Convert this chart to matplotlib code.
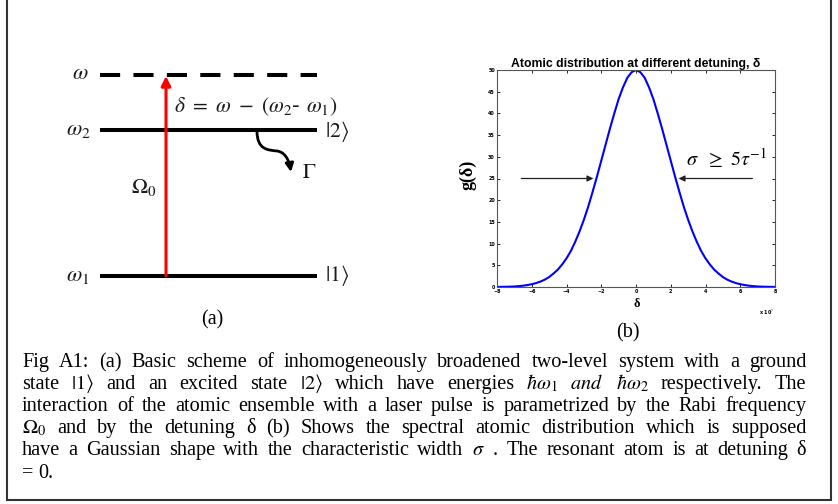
import numpy as np
import matplotlib
matplotlib.use("Agg")
import matplotlib.pyplot as plt
from matplotlib.patches import FancyArrowPatch, Rectangle
from matplotlib.path import Path

plt.rcParams['mathtext.fontset'] = 'stix'

# g(delta), one value every 0.25 from -8 to 8
g_vals = [0.02, 0.03, 0.05, 0.08, 0.12, 0.2, 0.3, 0.45, 0.65, 0.9, 1.25,
          1.7, 2.3, 3.1, 4.0, 5.2, 6.6, 8.3, 10.4, 12.8, 15.5, 18.5, 21.9,
          25.4, 29.1, 32.8, 36.5, 40.0, 43.3, 46.0, 48.2, 49.5, 50.0,
          49.5, 48.2, 46.0, 43.3, 40.0, 36.5, 32.8, 29.1, 25.4, 21.9, 18.5,
          15.5, 12.8, 10.4, 8.3, 6.6, 5.2, 4.0, 3.1, 2.3, 1.7, 1.25, 0.9,
          0.65, 0.45, 0.3, 0.2, 0.12, 0.08, 0.05, 0.03, 0.02]
delta = np.linspace(-8, 8, len(g_vals))

x_ticks = [-8, -6, -4, -2, 0, 2, 4, 6, 8]
y_ticks = [0, 5, 10, 15, 20, 25, 30, 35, 40, 45, 50]

# width arrows (tail, tip) at half maximum
half_max = 25
arrow_tails = [-6.6, 6.7]
arrow_tips = [-2.45, 2.45]

caption_lines = [
    "Fig A1: (a) Basic scheme of inhomogeneously broadened two-level system with a ground",
    "state $|1\\rangle$ and an excited state $|2\\rangle$ which have energies "
    "$\\hbar\\omega_1$ $\\mathit{and}$ $\\hbar\\omega_2$ respectively. The",
    "interaction of the atomic ensemble with a laser pulse is parametrized by the Rabi frequency",
    "$\\Omega_0$ and by the detuning \u03b4 (b) Shows the spectral atomic distribution which is supposed",
    "have a Gaussian shape with the characteristic width $\\sigma$ . The resonant atom is at detuning \u03b4",
    "= 0.",
]

W, H = 838, 504
fig = plt.figure(figsize=(W / 100, H / 100), dpi=100)

# ---- panel (b): gaussian
ax = fig.add_axes([497 / W, 1 - 287 / H, 278 / W, 217 / H])
ax.plot(delta, g_vals, color='#0000ff', lw=1.5)
ax.set_xlim(-8, 8)
ax.set_ylim(0, 50)
ax.set_xticks(x_ticks)
ax.set_yticks(y_ticks)
ax.tick_params(direction='in', length=2.5, width=0.6, labelsize=3.5,
               top=True, right=True, pad=1.5)
for lbl in ax.get_xticklabels() + ax.get_yticklabels():
    lbl.set_fontweight('bold')
for sp in ax.spines.values():
    sp.set_color('#555555')
    sp.set_linewidth(0.8)
ax.set_title("Atomic distribution at different detuning, \u03b4", fontsize=8.8,
             fontweight='bold', family='Liberation Sans', pad=2.5)
for tail, tip in zip(arrow_tails, arrow_tips):
    ax.annotate('', xy=(tip, half_max), xytext=(tail, half_max),
                arrowprops=dict(arrowstyle='-|>', color='#222222', lw=0.9,
                                mutation_scale=9, shrinkA=0, shrinkB=0))

# ---- overlay in pixel coords for the sketch and the caption
bg = fig.add_axes([0, 0, 1, 1])
bg.set_xlim(0, W)
bg.set_ylim(H, 0)
bg.axis('off')
bg.patch.set_visible(False)
bg.set_zorder(2)

bg.add_patch(Rectangle((7, -10), 824, 510, fill=False, edgecolor='#333333', lw=1.5))

# panel (b) labels
bg.text(468, 175, "g(\u03b4)", rotation=90, fontsize=13, fontweight='bold',
        family='Liberation Serif', ha='center', va='center')
bg.text(637, 304, "\u03b4", fontsize=9, fontweight='bold', family='Liberation Serif',
        ha='center', va='center')
bg.text(767, 313, "x 10$^{7}$", fontsize=3.5, fontweight='bold', ha='center', va='center')
bg.text(686, 158, r"$\sigma\ \ \geq\ 5\tau^{-1}$", fontsize=14.5, ha='left', va='center')
bg.text(628, 333, "(b)", fontsize=14.5, family='Liberation Serif', ha='center', va='center')

# ---- panel (a): level scheme
ink = '#1a1a1a'
bg.plot([100, 317], [75, 75], color='k', lw=2.9, ls=(0, (5, 3.3)),
        dash_capstyle='butt')
bg.plot([100, 317], [130, 130], color='k', lw=2.9, solid_capstyle='butt')
bg.plot([100, 317], [276, 276], color='k', lw=2.9, solid_capstyle='butt')
bg.add_patch(FancyArrowPatch((166, 276), (166, 76), arrowstyle='-|>',
                             mutation_scale=14, lw=2.2, color='#ff0000',
                             shrinkA=0, shrinkB=0, zorder=4))
wave = Path([(257, 131), (257, 150), (268, 150), (277, 151),
             (285, 152), (289, 160), (291, 172)],
            [Path.MOVETO, Path.CURVE4, Path.CURVE4, Path.CURVE4,
             Path.CURVE4, Path.CURVE4, Path.CURVE4])
bg.add_patch(FancyArrowPatch(path=wave, arrowstyle='-|>', mutation_scale=12,
                             lw=2, color='k'))

bg.text(80, 73, r"$\omega$", fontsize=16, color=ink, ha='center', va='center')
bg.text(78, 130, r"$\omega_2$", fontsize=16, color=ink, ha='center', va='center')
bg.text(78, 276, r"$\omega_1$", fontsize=16, color=ink, ha='center', va='center')
bg.text(325, 131, r"$|2\rangle$", fontsize=15.5, color=ink, ha='left', va='center')
bg.text(325, 276, r"$|1\rangle$", fontsize=15.5, color=ink, ha='left', va='center')
bg.text(174, 107, r"$\delta\ =\ \omega\ -\ (\omega_2$- $\omega_1)$", fontsize=15.5,
        color=ink, ha='left', va='center')
bg.text(131, 187, r"$\Omega_0$", fontsize=15.5, color=ink, ha='left', va='center')
bg.text(302, 172, r"$\Gamma$", fontsize=15.5, color=ink, ha='left', va='center')
bg.text(212, 320, "(a)", fontsize=14.5, family='Liberation Serif', ha='center', va='center')

# ---- caption, justified word by word
renderer = fig.canvas.get_renderer()
left, right = 22, 806
baselines = [367, 389, 411, 433, 455, 477.5]
for i, line in enumerate(caption_lines):
    words = line.split(" ")
    texts = [bg.text(0, baselines[i], w, fontsize=14.6, family='Liberation Serif',
                     ha='left', va='baseline') for w in words]
    widths = [t.get_window_extent(renderer).width for t in texts]
    if i == len(caption_lines) - 1:
        gap = 4.5
    else:
        gap = (right - left - sum(widths)) / (len(words) - 1)
    x = left
    for t, w in zip(texts, widths):
        t.set_x(x)
        x += w + gap

fig.savefig("out.png", dpi=100)
